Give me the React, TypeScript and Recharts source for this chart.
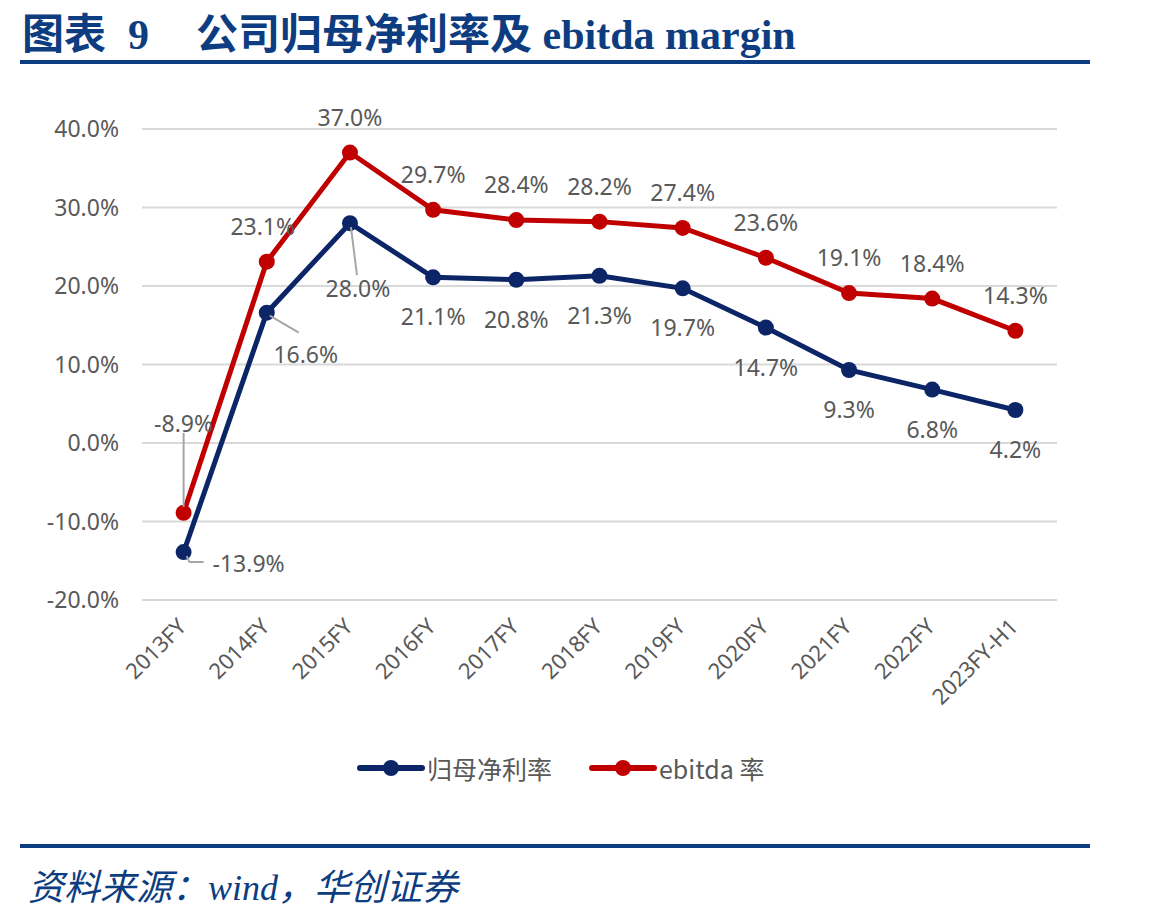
import React from "react";
import {
  LineChart,
  Line,
  XAxis,
  YAxis,
  CartesianGrid,
  Legend,
} from "recharts";

const categories = [
  "2013FY",
  "2014FY",
  "2015FY",
  "2016FY",
  "2017FY",
  "2018FY",
  "2019FY",
  "2020FY",
  "2021FY",
  "2022FY",
  "2023FY-H1",
];
const netMargin = [-13.9, 16.6, 28.0, 21.1, 20.8, 21.3, 19.7, 14.7, 9.3, 6.8, 4.2];
const ebitdaMargin = [-8.9, 23.1, 37.0, 29.7, 28.4, 28.2, 27.4, 23.6, 19.1, 18.4, 14.3];
const yTicks = [-20, -10, 0, 10, 20, 30, 40];

const NET_NAME = "归母净利率";
const EBITDA_NAME = "ebitda 率";

const data = categories.map((name, i) => ({
  name,
  net: netMargin[i],
  ebitda: ebitdaMargin[i],
}));

const NAVY = "#0b2566";
const RED = "#c00000";
const TEXT = "#595959";
const BRAND = "#0d3d80";
const FONT = "'Noto Sans', 'Open Sans', sans-serif";
const CJK = "'Noto Sans CJK SC', sans-serif";
const SERIF = "'Liberation Serif', serif";

// label placement relative to the point; lead = leader line points
type Place = { dx: number; dy: number; lead?: number[][] };
const netPlace: Record<number, Place> = {
  0: { dx: 65, dy: 11, lead: [[3, 4], [6, 10], [20, 10]] },
  1: { dx: 39, dy: 41, lead: [[3, 3], [32, 20]] },
  2: { dx: 8, dy: 65, lead: [[1, 4], [7, 52]] },
};
const ebitdaPlace: Record<number, Place> = {
  0: { dx: 0, dy: -90, lead: [[0, -6], [0, -80]] },
  1: { dx: -4, dy: -36 },
};

const makeLabel = (place: Record<number, Place>, defDy: number) => (props: any) => {
  const { x, y, value, index } = props;
  const p = place[index] || { dx: 0, dy: defDy };
  return (
    <g>
      {p.lead && (
        <polyline
          points={p.lead.map(([a, b]) => `${x + a},${y + b}`).join(" ")}
          fill="none"
          stroke="#a6a6a6"
          strokeWidth={2}
        />
      )}
      <text
        x={x + p.dx}
        y={y + p.dy}
        textAnchor="middle"
        dominantBaseline="central"
        fill={TEXT}
        fontSize={23}
        fontFamily={FONT}
      >
        {`${Number(value).toFixed(1)}%`}
      </text>
    </g>
  );
};

const CategoryTick = (props: any) => {
  const { x, y, payload } = props;
  return (
    <g transform={`translate(${x + 4},${y + 20})`}>
      <text
        transform="rotate(-45)"
        textAnchor="end"
        fill={TEXT}
        fontSize={22}
        fontFamily={FONT}
      >
        {payload.value}
      </text>
    </g>
  );
};

const LegendBody = () => {
  const items = [
    { label: NET_NAME, color: NAVY, x: 360 },
    { label: EBITDA_NAME, color: RED, x: 592 },
  ];
  return (
    <svg width={1149} height={40} style={{ display: "block" }}>
      {items.map((it) => (
        <g key={it.label}>
          <line x1={it.x} y1={20} x2={it.x + 62} y2={20} stroke={it.color} strokeWidth={6} strokeLinecap="round" />
          <circle cx={it.x + 31} cy={20} r={8} fill={it.color} />
          <text x={it.x + 67} y={20} dominantBaseline="central" fill={TEXT} fontSize={25} fontFamily={CJK}>
            {it.label}
          </text>
        </g>
      ))}
    </svg>
  );
};

export default function App() {
  return (
    <div
      style={{
        position: "relative",
        width: 1149,
        height: 922,
        margin: "-8px 0 0 -8px",
        background: "#fff",
        overflow: "hidden",
      }}
    >
      {/* heading and rule */}
      <svg width={1149} height={70} style={{ position: "absolute", left: 0, top: 0 }}>
        <text y={49} fill={BRAND} fontSize={42} fontWeight={700}>
          <tspan x={22} fontFamily={CJK}>图表</tspan>
          <tspan x={128} fontFamily={SERIF}>9</tspan>
          <tspan x={196} fontFamily={CJK}>公司归母净利率及</tspan>
          <tspan fontFamily={SERIF}> ebitda margin</tspan>
        </text>
        <rect x={20} y={60} width={1070} height={4} fill={BRAND} />
      </svg>

      <div style={{ position: "absolute", left: 0, top: 0 }}>
        <LineChart
          width={1149}
          height={790}
          data={data}
          margin={{ top: 129, right: 92, left: 82, bottom: 50 }}
        >
          <CartesianGrid vertical={false} stroke="#d9d9d9" strokeWidth={2} />
          <XAxis
            dataKey="name"
            axisLine={false}
            tickLine={false}
            interval={0}
            padding={{ left: 41.6, right: 41.6 }}
            height={100}
            tick={<CategoryTick />}
          />
          <YAxis
            width={60}
            domain={[-20, 40]}
            ticks={yTicks}
            axisLine={false}
            tickLine={false}
            tickMargin={17}
            tickFormatter={(v: number) => `${v.toFixed(1)}%`}
            tick={{ fill: TEXT, fontSize: 23, fontFamily: FONT }}
          />
          <Line
            dataKey="net"
            name={NET_NAME}
            stroke={NAVY}
            strokeWidth={5}
            dot={{ r: 8, fill: NAVY, stroke: NAVY, strokeWidth: 0 }}
            isAnimationActive={false}
            label={makeLabel(netPlace, 39)}
          />
          <Line
            dataKey="ebitda"
            name={EBITDA_NAME}
            stroke={RED}
            strokeWidth={5}
            dot={{ r: 8, fill: RED, stroke: RED, strokeWidth: 0 }}
            isAnimationActive={false}
            label={makeLabel(ebitdaPlace, -36)}
          />
          <Legend
            content={<LegendBody />}
            wrapperStyle={{ position: "absolute", left: 0, top: 748, width: 1149 }}
          />
        </LineChart>
      </div>

      {/* source note */}
      <svg width={1149} height={92} style={{ position: "absolute", left: 0, top: 830 }}>
        <rect x={20} y={14} width={1070} height={4} fill={BRAND} />
        <text x={28} y={70} fill={BRAND} fontSize={36} fontStyle="italic">
          <tspan fontFamily={CJK}>资料来源：</tspan>
          <tspan fontFamily={SERIF}>wind</tspan>
          <tspan fontFamily={CJK}>，华创证券</tspan>
        </text>
      </svg>
    </div>
  );
}
